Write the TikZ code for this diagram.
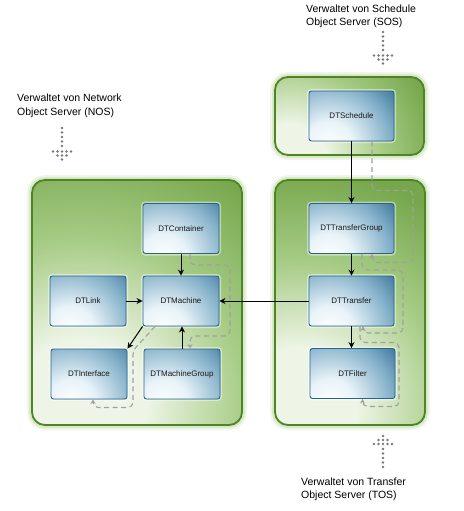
\documentclass[tikz,border=0pt]{standalone}
\usepackage{fontspec}
\setmainfont{Liberation Sans}
\usetikzlibrary{arrows.meta,calc}
\definecolor{contborder}{RGB}{78,132,36}
\definecolor{contdark}{RGB}{118,167,76}
\definecolor{contmid}{RGB}{165,203,132}
\definecolor{contlight}{RGB}{238,245,230}
\definecolor{boxdark}{RGB}{38,98,138}
\definecolor{boxmid}{RGB}{128,174,200}
\definecolor{boxlight}{RGB}{232,243,248}
\definecolor{boxborder}{RGB}{40,100,140}
\definecolor{flowcol}{RGB}{160,160,160}
\definecolor{dotcol}{RGB}{120,120,120}
\definecolor{glowcol}{RGB}{150,195,110}
\pgfdeclareradialshading{contshade}{\pgfpoint{0bp}{0bp}}{color(0bp)=(contlight); color(6bp)=(contlight); color(15.5bp)=(contmid); color(25bp)=(contdark); color(50bp)=(contdark)}
\pgfdeclareradialshading{boxshade}{\pgfpoint{0bp}{0bp}}{color(0bp)=(white); color(6.5bp)=(boxlight); color(16.5bp)=(boxmid); color(25bp)=(boxdark); color(50bp)=(boxdark)}
\newcommand\dotsdown[2]{%
  \foreach \k in {0,...,4} \fill[dotcol] (#1,#2+4.5*\k) circle (1.3pt);
  \foreach \dx in {-9,-4.5,0,4.5,9} \fill[dotcol] (#1+\dx,#2+23.5) circle (1.3pt);
  \foreach \dx in {-4.5,0,4.5} \fill[dotcol] (#1+\dx,#2+27.5) circle (1.3pt);
  \fill[dotcol] (#1,#2+31.5) circle (1.3pt);
}
\newcommand\dotsup[2]{%
  \fill[dotcol] (#1,#2) circle (1.3pt);
  \foreach \dx in {-4.5,0,4.5} \fill[dotcol] (#1+\dx,#2+4) circle (1.3pt);
  \foreach \dx in {-9,-4.5,0,4.5,9} \fill[dotcol] (#1+\dx,#2+8) circle (1.3pt);
  \foreach \k in {0,...,4} \fill[dotcol] (#1,#2+13+4.5*\k) circle (1.3pt);
}
\tikzset{
  container/.style n args={3}{draw=contborder, line width=1.8pt, rounded corners=13pt, fill=contdark,
    preaction={draw=glowcol, line width=10pt, opacity=0.15},
    preaction={draw=glowcol, line width=6pt, opacity=0.25},
    path picture={\shade[shading=contshade] (#1,#2) circle (#3);}},
  dtbox/.style={draw=boxborder, line width=0.9pt, rounded corners=2.5pt, fill=boxdark,
    minimum height=50pt, inner sep=0pt, font=\fontsize{8}{9.6}\selectfont, text=black!90,
    preaction={draw=white, line width=4pt, opacity=0.45},
    path picture={\shade[shading=boxshade] ($(path picture bounding box.south west)+(20pt,-5pt)$) circle (95pt);}},
  arr/.style={-{Stealth[length=6pt,width=6pt]}, line width=1pt, black},
  flow/.style={draw=flowcol, line width=1.1pt, dash pattern=on 5pt off 3.5pt, rounded corners=5pt,
    -{Stealth[length=4.5pt,width=5pt]}},
  lbl/.style={align=left, inner sep=0pt, anchor=north west, font=\fontsize{10.5}{13.5}\selectfont}
}
\begin{document}
\begin{tikzpicture}[x=1pt,y=-1pt]
\useasboundingbox (0,0) rectangle (463,511);
\fill[white] (0,0) rectangle (463,511);
% containers
\draw[container={290}{160}{150pt}] (275,77) rectangle (424,155);
\draw[container={80}{405}{270pt}] (32,180) rectangle (242,425);
\draw[container={300}{405}{235pt}] (275,180) rectangle (425,425);
% boxes
\node[dtbox, minimum width=85pt] (sched) at (351.5,116) {DTSchedule};
\node[dtbox, minimum width=85pt] (tgroup) at (351.5,228.5) {DTTransferGroup};
\node[dtbox, minimum width=85pt] (transfer) at (351.5,301) {DTTransfer};
\node[dtbox, minimum width=85pt] (filter) at (352.5,373.5) {DTFilter};
\node[dtbox, minimum width=76pt] (container) at (181,228.5) {DTContainer};
\node[dtbox, minimum width=76pt] (link) at (88,301) {DTLink};
\node[dtbox, minimum width=76pt] (machine) at (181,301) {DTMachine};
\node[dtbox, minimum width=76pt] (iface) at (89,374) {DTInterface};
\node[dtbox, minimum width=76pt] (mgroup) at (182,374) {DTMachineGroup};
% dashed flows
\draw[flow] ([xshift=20.5pt]sched.south) -- ++(0,49) -| ++(41,72) -| ([xshift=20.5pt]tgroup.south);
\draw[flow] ([xshift=10.5pt]tgroup.south) -- ++(0,16) -| ++(41,63) -| ([xshift=11.5pt]transfer.south);
\draw[flow] ([xshift=8.5pt]transfer.south) -- ++(0,16) -| ++(39,64) -| ([xshift=10pt]filter.south);
\draw[flow] ([xshift=9pt]container.south) -- ++(0,11) -| ++(40,71) -| ([xshift=8pt]mgroup.north);
\draw[flow] ([xshift=-26pt]machine.south) -- ++(-22,24) -- ++(0,57) -| ([xshift=4pt]iface.south);
% arrows
\draw[arr] (sched) -- (tgroup);
\draw[arr] (tgroup) -- (transfer);
\draw[arr] (transfer.south) -- (transfer.south |- filter.north);
\draw[arr] (transfer) -- (machine);
\draw[arr] (container) -- (machine);
\draw[arr] (link) -- (machine);
\draw[arr] (machine.south west) -- (iface.north east);
\draw[arr] (mgroup.north) -- (mgroup.north |- machine.south);
% labels
\node[lbl] (sos) at (306,4.5) {Verwaltet von Schedule\\Object Server (SOS)};
\node[lbl] (nos) at (17,94) {Verwaltet von Network\\Object Server (NOS)};
\node[lbl] (tos) at (301,477.5) {Verwaltet von Transfer\\Object Server (TOS)};
% dotted arrows
\dotsdown{383}{32}
\dotsdown{62}{128}
\dotsup{383}{436}
\end{tikzpicture}
\end{document}
